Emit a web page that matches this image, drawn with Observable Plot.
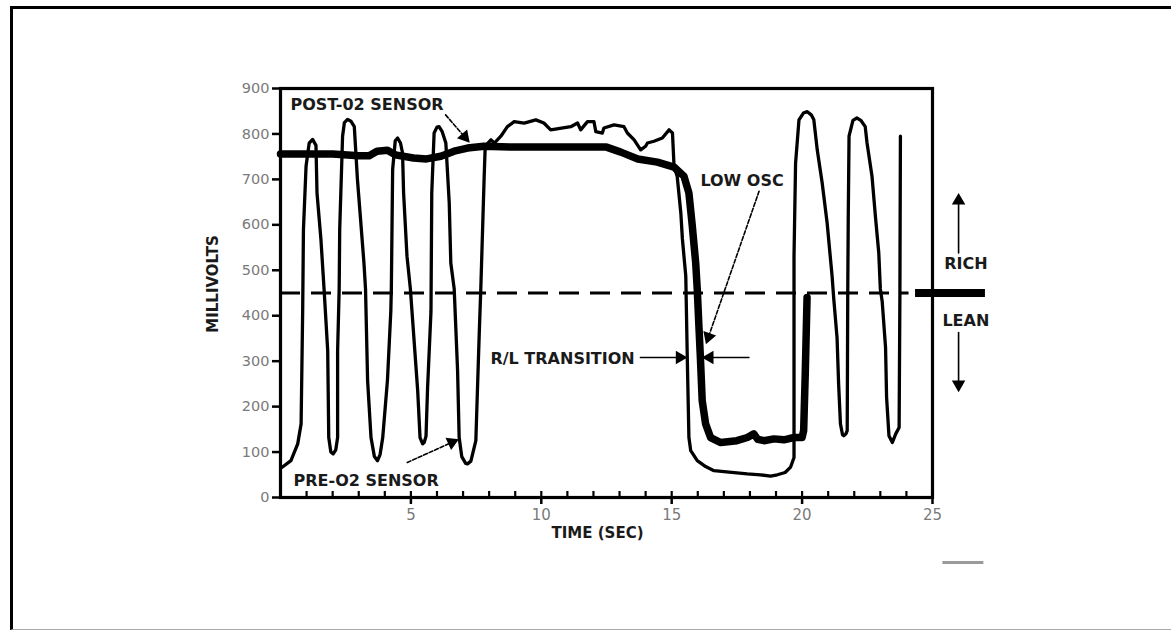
<!DOCTYPE html>
<html>
<head>
<meta charset="utf-8">
<script src="https://cdn.jsdelivr.net/npm/d3@7"></script>
<script src="https://cdn.jsdelivr.net/npm/@observablehq/plot@0.6"></script>
<style>
  html, body { margin: 0; padding: 0; background: #fff; overflow: hidden; width: 1171px; height: 630px; }
  #chart { position: absolute; left: 0; top: 0; }
  #border { position: absolute; left: 10px; top: 6px; width: 1200px; height: 620px;
            border-left: 3px solid #000; border-top: 3px solid #000; border-bottom: 1px solid #aaa;
            pointer-events: none; }
</style>
</head>
<body>
<div id="chart"></div>
<div id="border"></div>
<script>
// ---- data (time in seconds, millivolts) ----
const preT = [0.05,0.4,0.66,0.79,0.85,0.88,0.98,1.1,1.23,1.36,1.4,1.55,1.67,1.81,1.85,1.93,2.02,2.12,2.19,2.19,2.25,2.27,2.38,2.45,2.57,2.7,2.83,2.95,3.07,3.2,3.26,3.34,3.47,3.6,3.72,3.82,3.92,4.1,4.23,4.25,4.3,4.4,4.49,4.6,4.68,4.72,4.85,4.98,5.26,5.35,5.45,5.51,5.58,5.64,5.77,5.8,5.89,6.0,6.08,6.2,6.34,6.47,6.53,6.66,6.79,6.85,6.95,7.1,7.17,7.3,7.49,7.62,7.68,7.81,7.85,8.07,8.2,8.45,8.7,8.96,9.34,9.79,10.1,10.36,11.13,11.39,11.51,11.77,12.02,12.09,12.34,12.4,12.79,13.17,13.3,13.56,13.81,14.0,14.07,14.32,14.64,14.9,15.03,15.09,15.21,15.35,15.41,15.54,15.6,15.66,15.73,15.98,16.3,16.62,17.2,17.9,18.4,18.79,19.05,19.35,19.56,19.69,19.69,19.69,19.75,19.88,20.05,20.2,20.35,20.45,20.58,20.77,20.96,21.15,21.21,21.34,21.4,21.47,21.55,21.6,21.68,21.73,21.75,21.77,21.8,21.95,22.1,22.25,22.42,22.49,22.68,22.81,22.94,23.0,23.07,23.2,23.24,23.33,23.46,23.59,23.72,23.75,23.77];
const preMv = [66,81,118,162,410,590,729,780,788,775,670,568,459,323,132,100,96,105,132,323,459,590,795,825,832,828,816,700,612,516,459,257,132,90,81,95,132,257,410,459,722,785,791,780,758,670,531,459,235,132,118,121,135,242,410,670,802,815,816,805,780,648,516,459,279,132,90,75,74,80,125,360,459,707,773,787,780,795,816,827,824,831,824,809,816,824,809,827,827,805,802,813,820,816,802,787,765,773,780,784,791,809,802,729,707,626,569,487,300,132,103,81,68,59,56,52,50,47,50,55,67,88,447,531,736,831,846,849,842,831,765,692,604,487,440,352,250,162,138,136,140,147,447,620,795,830,835,830,816,780,707,619,538,459,432,330,220,136,121,140,154,447,795];

const postT = [0,1,2,3,3.4,3.7,4.1,4.4,5.1,5.6,6.15,6.66,7.17,7.8,9,12.5,13.05,13.7,14.45,15.09,15.47,15.66,15.79,15.92,15.98,16.04,16.1,16.17,16.3,16.49,16.88,17.5,17.9,18.15,18.3,18.54,18.92,19.3,19.69,20.0,20.06,20.12,20.19];
const postMv = [756,756,756,752,752,762,764,754,747,745,751,762,769,773,771,771,760,745,738,727,707,670,597,516,458,381,308,213,162,132,121,125,132,140,128,125,129,127,132,132,147,271,440];

const thresholdMv = 450;
const yTicks = [0,100,200,300,400,500,600,700,800,900];
const xMajorTicks = [5,10,15,20,25];
const xMinorTicks = d3.range(1, 26);

// annotation texts and anchors (data units)
const labelText = ["POST-02 SENSOR", "PRE-O2 SENSOR", "LOW OSC", "R/L TRANSITION"];
const labelT    = [0.38, 0.5, 16.1, 8.05];
const labelMv   = [865, 37, 696, 305];
const sideText  = ["RICH", "LEAN"];
const sideT     = [26.28, 26.28];
const sideMv    = [513, 388];

const pre = preT.map((t, i) => ({t, mv: preMv[i]}));
const post = postT.map((t, i) => ({t, mv: postMv[i]}));
const labels = labelText.map((text, i) => ({text, t: labelT[i], mv: labelMv[i]}));
const sides = sideText.map((text, i) => ({text, t: sideT[i], mv: sideMv[i]}));

const dashedArrows = [
  {t1: 6.33, m1: 842, t2: 7.16, m2: 787},   // POST-02 pointer
  {t1: 4.86, m1: 77,  t2: 6.71, m2: 125},   // PRE-O2 pointer
  {t1: 18.35, m1: 674, t2: 16.36, m2: 345}  // LOW OSC pointer
];
const solidArrows = [
  {t1: 13.8, m1: 308, t2: 15.46, m2: 308},
  {t1: 17.96, m1: 308, t2: 16.3, m2: 308},
  {t1: 26.0, m1: 538, t2: 26.0, m2: 662},
  {t1: 26.0, m1: 363, t2: 26.0, m2: 240}
];

const W = 1171, H = 630, ML = 280, MR = 239, MT = 88, MB = 133;
const kx = (W - ML - MR) / 25, ky = (H - MT - MB) / 900;
// filled arrowheads: triangle centred a little behind each tip, rotated along the shaft
const heads = [...dashedArrows, ...solidArrows].map(a => {
  const dx = (a.t2 - a.t1) * kx, dy = -(a.m2 - a.m1) * ky;
  const len = Math.hypot(dx, dy), back = 4;
  return {
    t: a.t2 - dx / len * back / kx,
    mv: a.m2 + dy / len * back / ky,
    angle: Math.atan2(dx, -dy) * 180 / Math.PI
  };
});

const font = "DejaVu Sans, Verdana, sans-serif";

const chart = Plot.plot({
  width: W,
  height: H,
  marginLeft: ML,
  marginRight: MR,
  marginTop: MT,
  marginBottom: MB,
  style: {fontFamily: font, background: "transparent", overflow: "visible"},
  x: {domain: [0, 25]},
  y: {domain: [0, 900]},
  marks: [
    Plot.ruleY([thresholdMv], {x1: 0, x2: 24.1, strokeWidth: 3, strokeDasharray: "20,11"}),
    Plot.ruleY([thresholdMv], {x1: 24.35, x2: 27.03, strokeWidth: 8}),
    Plot.ruleY([-143], {x1: 25.4, x2: 26.97, stroke: "#9a9a9a", strokeWidth: 3}),
    Plot.line(pre, {x: "t", y: "mv", stroke: "#000", strokeWidth: 3.3, strokeLinejoin: "round"}),
    Plot.line(post, {x: "t", y: "mv", stroke: "#000", strokeWidth: 7.5, strokeLinejoin: "round"}),
    Plot.frame({strokeWidth: 3.2}),
    Plot.axisY({ticks: yTicks, tickSize: 8, tickPadding: 3, strokeWidth: 2.5, fill: "#7a7a7a", fontSize: 14.5, label: null}),
    Plot.axisX({ticks: xMinorTicks, tickSize: 6, dy: -6, strokeWidth: 2.2, tickFormat: () => "", label: null}),
    Plot.axisX({ticks: xMajorTicks, tickSize: 7, tickPadding: 5, strokeWidth: 2.5, fill: "#7a7a7a", fontSize: 15, label: null}),
    Plot.text(["MILLIVOLTS"], {frameAnchor: "left", textAnchor: "middle", dx: -67, dy: -9, rotate: -90, text: d => d, fontWeight: "bold", fontSize: 15, fill: "#1a1a1a"}),
    Plot.text(["TIME (SEC)"], {frameAnchor: "bottom", textAnchor: "middle", dy: 40, dx: -9, text: d => d, fontWeight: "bold", fontSize: 15, fill: "#1a1a1a"}),
    Plot.text(labels, {x: "t", y: "mv", text: "text", textAnchor: "start", fontWeight: "bold", fontSize: 16, fill: "#1a1a1a"}),
    Plot.text(sides, {x: "t", y: "mv", text: "text", fontWeight: "bold", fontSize: 16, fill: "#1a1a1a"}),
    Plot.arrow(dashedArrows, {x1: "t1", y1: "m1", x2: "t2", y2: "m2", strokeWidth: 1.6, strokeDasharray: "4,2", headLength: 0, stroke: "#000"}),
    Plot.arrow(solidArrows, {x1: "t1", y1: "m1", x2: "t2", y2: "m2", strokeWidth: 1.6, headLength: 0, stroke: "#000"}),
    Plot.dot(heads, {x: "t", y: "mv", symbol: "triangle", r: 5, fill: "#000", stroke: "none", rotate: "angle"})
  ]
});
document.getElementById("chart").appendChild(chart);
</script>
</body>
</html>
